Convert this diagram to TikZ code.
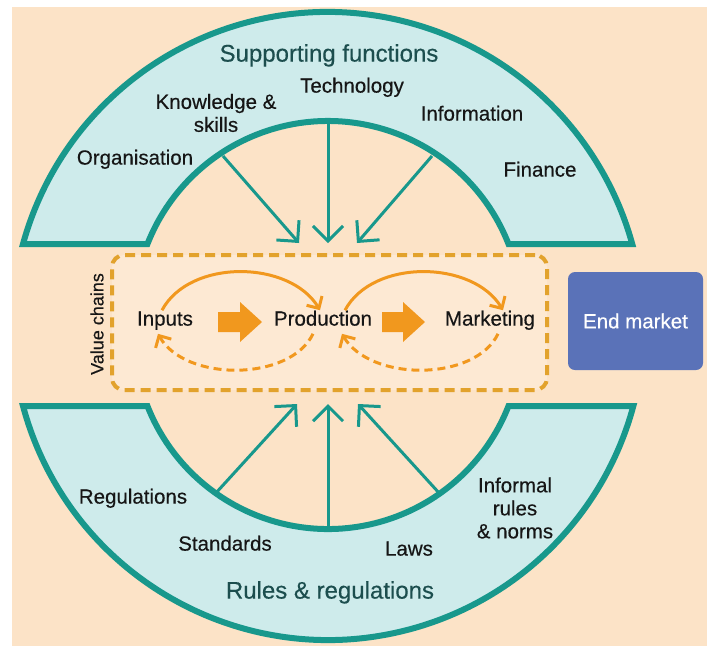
\documentclass[tikz,border=0pt]{standalone}
\usepackage{fontspec}
\setmainfont{Liberation Sans}[FakeBold=0.35]
\usetikzlibrary{arrows.meta,calc}

\definecolor{peach}{RGB}{252,227,199}
\definecolor{boxfill}{RGB}{253,233,211}
\definecolor{archfill}{RGB}{206,235,235}
\definecolor{teal}{RGB}{24,152,140}
\definecolor{titleink}{RGB}{28,78,78}
\definecolor{ink}{RGB}{22,22,22}
\definecolor{chainline}{RGB}{226,162,44}
\definecolor{flow}{RGB}{241,152,30}
\definecolor{marketblue}{RGB}{90,114,184}

\begin{document}
\begin{tikzpicture}[x=1pt,y=-1pt,
  arch/.style={fill=archfill, draw=teal, line width=6pt, line join=miter},
  influence/.style={draw=teal, line width=3pt, -{Straight Barb[length=15pt,width=30pt]}},
  title/.style={font=\fontsize{24}{28}\selectfont, text=titleink, inner sep=0pt, text height=0.72em, text depth=0pt},
  lbl/.style={font=\fontsize{20.5}{23}\selectfont, text=ink, inner sep=0pt, text height=0.72em, text depth=0pt},
  lbls/.style={font=\fontsize{20.5}{23}\selectfont, text=ink, inner sep=0pt, align=center},
  stage/.style={font=\fontsize{20.5}{23}\selectfont, text=ink, inner xsep=0pt, inner ysep=8pt, text height=0.72em, text depth=0pt},
  forward/.style={draw=flow, line width=3pt, -{Straight Barb[length=9pt,width=18pt]}},
  feedback/.style={draw=flow, line width=3pt, dash pattern=on 8pt off 5pt, -{Straight Barb[length=9pt,width=18pt]}},
  blockarrow/.style={fill=flow},
  chainbox/.style={draw=chainline, fill=boxfill, line width=4pt, dash pattern=on 10pt off 6pt, rounded corners=12pt, minimum width=435pt, minimum height=135pt},
  market/.style={fill=marketblue, rounded corners=7pt, minimum width=135pt, minimum height=98pt, font=\fontsize{20.5}{23}\selectfont, text=white}
]
\useasboundingbox (0,0) rectangle (712,646);
\fill[white] (0,0) rectangle (712,646);
\fill[peach] (12,7) rectangle (707,646);

% Supporting functions arch
\filldraw[arch] (23,244) arc[start angle=195.41, end angle=344.59, radius=316]
  -- (508.5,244) arc[start angle=-21.47, end angle=-158.53, radius=194] -- cycle;

% Rules & regulations arch
\filldraw[arch] (23,406) arc[start angle=164.96, end angle=15.04, radius=316]
  -- (508.5,406) arc[start angle=21.47, end angle=158.53, radius=194] -- cycle;

% Value chain box
\node[chainbox] (chain) at (329.5,322.5) {};
\node[font=\fontsize{18}{20}\selectfont, text=ink, rotate=90, inner sep=0pt] (vc) at (97,324) {Value chains};

% Stages
\node[stage] (inputs) at (165,322) {Inputs};
\node[stage] (production) at (323,322) {Production};
\node[stage] (marketing) at (490,322) {Marketing};

\fill[blockarrow] (218,312) -- (240,312) -- (240,302) -- (262,322) -- (240,342) -- (240,332) -- (218,332) -- cycle;
\fill[blockarrow] (382,312) -- (403,312) -- (403,302) -- (425,322) -- (403,342) -- (403,332) -- (382,332) -- cycle;

\draw[forward] ($(inputs.north)+(-3,0)$) .. controls +(28,-52) and +(-30,-50) .. ($(production.north)+(-3,0)$);
\draw[feedback] ($(production.south)+(-10,0)$) .. controls +(-23,48) and +(27,48) .. ($(inputs.south)+(-7,0)$);
\draw[forward] ($(production.north)+(22,0)$) .. controls +(28,-52) and +(-30,-50) .. ($(marketing.north)+(13,0)$);
\draw[feedback] ($(marketing.south)+(8,0)$) .. controls +(-23,48) and +(28,48) .. ($(production.south)+(19,0)$);

% End market
\node[market] (endmarket) at (635.5,321) {End market};

% Arrows from the supporting functions
\coordinate (s1) at (223,156);
\coordinate (s2) at (328,121);
\coordinate (s3) at (432,156);
\coordinate (t1) at (299,243);
\coordinate (t2) at (328,243);
\coordinate (t3) at (357,243);
\draw[influence] (s1) -- (t1);
\draw[influence] (s2) -- (t2);
\draw[influence] (s3) -- (t3);

% Arrows from the rules & regulations
\coordinate (r1) at (215,494);
\coordinate (r2) at (328,529);
\coordinate (r3) at (440,494);
\coordinate (b1) at (297,404);
\coordinate (b2) at (328,404);
\coordinate (b3) at (358,404);
\draw[influence] (r1) -- (b1);
\draw[influence] (r2) -- (b2);
\draw[influence] (r3) -- (b3);

% Labels
\node[title] (sf) at (329,58) {Supporting functions};
\node[lbl] (tech) at (352,89) {Technology};
\node[lbls] (know) at (216,113) {Knowledge \&\\skills};
\node[lbl] (info) at (472,117) {Information};
\node[lbl] (org) at (135,161) {Organisation};
\node[lbl] (fin) at (540,173) {Finance};

\node[title] (rr) at (330,595) {Rules \& regulations};
\node[lbl] (reg) at (133,500) {Regulations};
\node[lbl] (std) at (225,547) {Standards};
\node[lbl] (laws) at (409,552) {Laws};
\node[lbls] (inf) at (515,508) {Informal\\rules\\\& norms};
\end{tikzpicture}
\end{document}
